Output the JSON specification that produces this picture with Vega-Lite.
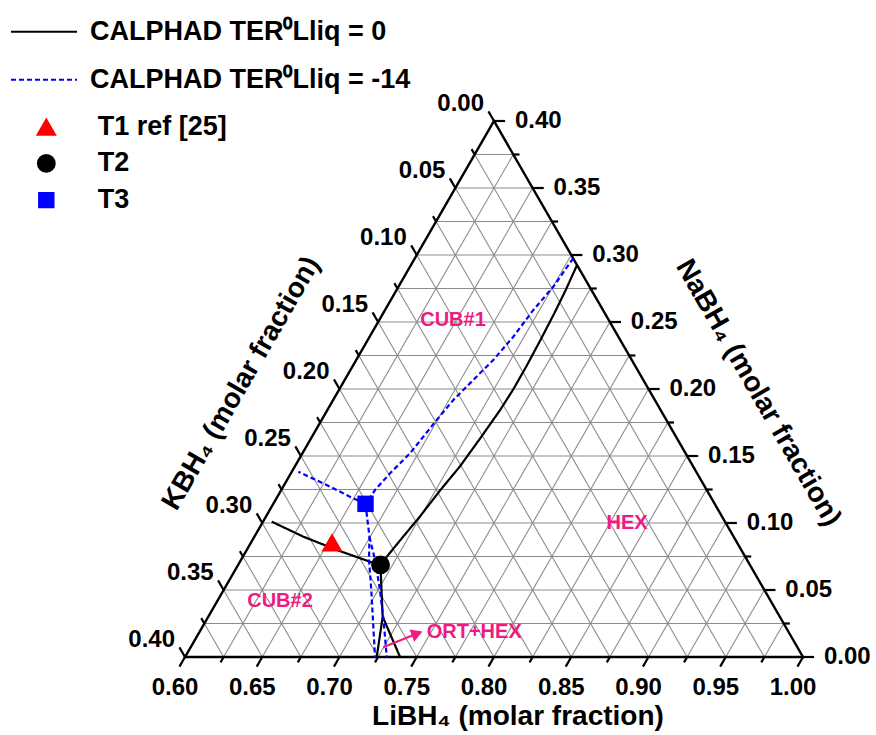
{
  "$schema": "https://vega.github.io/schema/vega-lite/v6.json",
  "width": 876,
  "height": 735,
  "autosize": {"type": "none"},
  "padding": 0,
  "background": "white",
  "config": {"view": {"stroke": null}, "font": "Liberation Sans"},
  "datasets": {
    "grid": [
      {"fam": "Li", "v": 0.625}, {"fam": "Li", "v": 0.65}, {"fam": "Li", "v": 0.675}, {"fam": "Li", "v": 0.7}, {"fam": "Li", "v": 0.725},
      {"fam": "Li", "v": 0.75}, {"fam": "Li", "v": 0.775}, {"fam": "Li", "v": 0.8}, {"fam": "Li", "v": 0.825}, {"fam": "Li", "v": 0.85},
      {"fam": "Li", "v": 0.875}, {"fam": "Li", "v": 0.9}, {"fam": "Li", "v": 0.925}, {"fam": "Li", "v": 0.95}, {"fam": "Li", "v": 0.975},
      {"fam": "Na", "v": 0.025}, {"fam": "Na", "v": 0.05}, {"fam": "Na", "v": 0.075}, {"fam": "Na", "v": 0.1}, {"fam": "Na", "v": 0.125},
      {"fam": "Na", "v": 0.15}, {"fam": "Na", "v": 0.175}, {"fam": "Na", "v": 0.2}, {"fam": "Na", "v": 0.225}, {"fam": "Na", "v": 0.25},
      {"fam": "Na", "v": 0.275}, {"fam": "Na", "v": 0.3}, {"fam": "Na", "v": 0.325}, {"fam": "Na", "v": 0.35}, {"fam": "Na", "v": 0.375},
      {"fam": "K", "v": 0.025}, {"fam": "K", "v": 0.05}, {"fam": "K", "v": 0.075}, {"fam": "K", "v": 0.1}, {"fam": "K", "v": 0.125},
      {"fam": "K", "v": 0.15}, {"fam": "K", "v": 0.175}, {"fam": "K", "v": 0.2}, {"fam": "K", "v": 0.225}, {"fam": "K", "v": 0.25},
      {"fam": "K", "v": 0.275}, {"fam": "K", "v": 0.3}, {"fam": "K", "v": 0.325}, {"fam": "K", "v": 0.35}, {"fam": "K", "v": 0.375}
    ],
    "edges": [{"fam": "Li", "v": 0.6}, {"fam": "Na", "v": 0}, {"fam": "K", "v": 0}],
    "major": [
      {"axis": "LiBH4", "v": 0.6}, {"axis": "LiBH4", "v": 0.65}, {"axis": "LiBH4", "v": 0.7}, {"axis": "LiBH4", "v": 0.75}, {"axis": "LiBH4", "v": 0.8},
      {"axis": "LiBH4", "v": 0.85}, {"axis": "LiBH4", "v": 0.9}, {"axis": "LiBH4", "v": 0.95}, {"axis": "LiBH4", "v": 1.0},
      {"axis": "KBH4", "v": 0.0}, {"axis": "KBH4", "v": 0.05}, {"axis": "KBH4", "v": 0.1}, {"axis": "KBH4", "v": 0.15}, {"axis": "KBH4", "v": 0.2},
      {"axis": "KBH4", "v": 0.25}, {"axis": "KBH4", "v": 0.3}, {"axis": "KBH4", "v": 0.35}, {"axis": "KBH4", "v": 0.4},
      {"axis": "NaBH4", "v": 0.0}, {"axis": "NaBH4", "v": 0.05}, {"axis": "NaBH4", "v": 0.1}, {"axis": "NaBH4", "v": 0.15}, {"axis": "NaBH4", "v": 0.2},
      {"axis": "NaBH4", "v": 0.25}, {"axis": "NaBH4", "v": 0.3}, {"axis": "NaBH4", "v": 0.35}, {"axis": "NaBH4", "v": 0.4}
    ],
    "minor": [
      {"axis": "LiBH4", "v": 0.625}, {"axis": "LiBH4", "v": 0.675}, {"axis": "LiBH4", "v": 0.725}, {"axis": "LiBH4", "v": 0.775},
      {"axis": "LiBH4", "v": 0.825}, {"axis": "LiBH4", "v": 0.875}, {"axis": "LiBH4", "v": 0.925}, {"axis": "LiBH4", "v": 0.975},
      {"axis": "KBH4", "v": 0.025}, {"axis": "KBH4", "v": 0.075}, {"axis": "KBH4", "v": 0.125}, {"axis": "KBH4", "v": 0.175},
      {"axis": "KBH4", "v": 0.225}, {"axis": "KBH4", "v": 0.275}, {"axis": "KBH4", "v": 0.325}, {"axis": "KBH4", "v": 0.375},
      {"axis": "NaBH4", "v": 0.025}, {"axis": "NaBH4", "v": 0.075}, {"axis": "NaBH4", "v": 0.125}, {"axis": "NaBH4", "v": 0.175},
      {"axis": "NaBH4", "v": 0.225}, {"axis": "NaBH4", "v": 0.275}, {"axis": "NaBH4", "v": 0.325}, {"axis": "NaBH4", "v": 0.375}
    ],
    "curves": [
      {"model": "CALPHAD TER⁰Lliq = 0", "seg": "b1", "o": 1, "li": 0.7075, "na": 0.2925},
      {"model": "CALPHAD TER⁰Lliq = 0", "seg": "b1", "o": 2, "li": 0.7095, "na": 0.2739},
      {"model": "CALPHAD TER⁰Lliq = 0", "seg": "b1", "o": 3, "li": 0.7108, "na": 0.2565},
      {"model": "CALPHAD TER⁰Lliq = 0", "seg": "b1", "o": 4, "li": 0.7118, "na": 0.2366},
      {"model": "CALPHAD TER⁰Lliq = 0", "seg": "b1", "o": 5, "li": 0.7125, "na": 0.2166},
      {"model": "CALPHAD TER⁰Lliq = 0", "seg": "b1", "o": 6, "li": 0.7126, "na": 0.1993},
      {"model": "CALPHAD TER⁰Lliq = 0", "seg": "b1", "o": 7, "li": 0.7118, "na": 0.1843},
      {"model": "CALPHAD TER⁰Lliq = 0", "seg": "b1", "o": 8, "li": 0.7095, "na": 0.1634},
      {"model": "CALPHAD TER⁰Lliq = 0", "seg": "b1", "o": 9, "li": 0.7068, "na": 0.1420},
      {"model": "CALPHAD TER⁰Lliq = 0", "seg": "b1", "o": 10, "li": 0.7030, "na": 0.1246},
      {"model": "CALPHAD TER⁰Lliq = 0", "seg": "b1", "o": 11, "li": 0.6996, "na": 0.1047},
      {"model": "CALPHAD TER⁰Lliq = 0", "seg": "b1", "o": 12, "li": 0.6963, "na": 0.0898},
      {"model": "CALPHAD TER⁰Lliq = 0", "seg": "b1", "o": 13, "li": 0.6932, "na": 0.0749},
      {"model": "CALPHAD TER⁰Lliq = 0", "seg": "b1", "o": 14, "li": 0.6922, "na": 0.0687},
      {"model": "CALPHAD TER⁰Lliq = 0", "seg": "b2", "o": 1, "li": 0.6056, "na": 0.1010},
      {"model": "CALPHAD TER⁰Lliq = 0", "seg": "b2", "o": 2, "li": 0.6317, "na": 0.0898},
      {"model": "CALPHAD TER⁰Lliq = 0", "seg": "b2", "o": 3, "li": 0.6583, "na": 0.0799},
      {"model": "CALPHAD TER⁰Lliq = 0", "seg": "b2", "o": 4, "li": 0.6842, "na": 0.0711},
      {"model": "CALPHAD TER⁰Lliq = 0", "seg": "b2", "o": 5, "li": 0.6922, "na": 0.0687},
      {"model": "CALPHAD TER⁰Lliq = 0", "seg": "b3", "o": 1, "li": 0.6922, "na": 0.0687},
      {"model": "CALPHAD TER⁰Lliq = 0", "seg": "b3", "o": 2, "li": 0.7035, "na": 0.0475},
      {"model": "CALPHAD TER⁰Lliq = 0", "seg": "b3", "o": 3, "li": 0.7129, "na": 0.0301},
      {"model": "CALPHAD TER⁰Lliq = 0", "seg": "b3", "o": 4, "li": 0.7241, "na": 0.0},
      {"model": "CALPHAD TER⁰Lliq = 0", "seg": "b4", "o": 1, "li": 0.7129, "na": 0.0301},
      {"model": "CALPHAD TER⁰Lliq = 0", "seg": "b4", "o": 2, "li": 0.7392, "na": 0.0},
      {"model": "CALPHAD TER⁰Lliq = -14", "seg": "d1", "o": 1, "li": 0.7025, "na": 0.2975},
      {"model": "CALPHAD TER⁰Lliq = -14", "seg": "d1", "o": 2, "li": 0.7002, "na": 0.2763},
      {"model": "CALPHAD TER⁰Lliq = -14", "seg": "d1", "o": 3, "li": 0.6960, "na": 0.2590},
      {"model": "CALPHAD TER⁰Lliq = -14", "seg": "d1", "o": 4, "li": 0.6930, "na": 0.2390},
      {"model": "CALPHAD TER⁰Lliq = -14", "seg": "d1", "o": 5, "li": 0.6887, "na": 0.2216},
      {"model": "CALPHAD TER⁰Lliq = -14", "seg": "d1", "o": 6, "li": 0.6832, "na": 0.2067},
      {"model": "CALPHAD TER⁰Lliq = -14", "seg": "d1", "o": 7, "li": 0.6778, "na": 0.1918},
      {"model": "CALPHAD TER⁰Lliq = -14", "seg": "d1", "o": 8, "li": 0.6745, "na": 0.1769},
      {"model": "CALPHAD TER⁰Lliq = -14", "seg": "d1", "o": 9, "li": 0.6696, "na": 0.1520},
      {"model": "CALPHAD TER⁰Lliq = -14", "seg": "d1", "o": 10, "li": 0.6642, "na": 0.1371},
      {"model": "CALPHAD TER⁰Lliq = -14", "seg": "d1", "o": 11, "li": 0.6607, "na": 0.1246},
      {"model": "CALPHAD TER⁰Lliq = -14", "seg": "d1", "o": 12, "li": 0.6597, "na": 0.1143},
      {"model": "CALPHAD TER⁰Lliq = -14", "seg": "d2", "o": 1, "li": 0.6597, "na": 0.1143},
      {"model": "CALPHAD TER⁰Lliq = -14", "seg": "d2", "o": 2, "li": 0.6470, "na": 0.1196},
      {"model": "CALPHAD TER⁰Lliq = -14", "seg": "d2", "o": 3, "li": 0.6275, "na": 0.1284},
      {"model": "CALPHAD TER⁰Lliq = -14", "seg": "d2", "o": 4, "li": 0.6042, "na": 0.1383},
      {"model": "CALPHAD TER⁰Lliq = -14", "seg": "d3", "o": 1, "li": 0.6597, "na": 0.1143},
      {"model": "CALPHAD TER⁰Lliq = -14", "seg": "d3", "o": 2, "li": 0.6746, "na": 0.0896},
      {"model": "CALPHAD TER⁰Lliq = -14", "seg": "d3", "o": 3, "li": 0.6829, "na": 0.0724},
      {"model": "CALPHAD TER⁰Lliq = -14", "seg": "d3", "o": 4, "li": 0.6968, "na": 0.0478},
      {"model": "CALPHAD TER⁰Lliq = -14", "seg": "d3", "o": 5, "li": 0.7107, "na": 0.0224},
      {"model": "CALPHAD TER⁰Lliq = -14", "seg": "d3", "o": 6, "li": 0.7230, "na": 0.0},
      {"model": "CALPHAD TER⁰Lliq = -14", "seg": "d4", "o": 1, "li": 0.6746, "na": 0.0896},
      {"model": "CALPHAD TER⁰Lliq = -14", "seg": "d4", "o": 2, "li": 0.6868, "na": 0.0724},
      {"model": "CALPHAD TER⁰Lliq = -14", "seg": "d4", "o": 3, "li": 0.7012, "na": 0.0500},
      {"model": "CALPHAD TER⁰Lliq = -14", "seg": "d4", "o": 4, "li": 0.7147, "na": 0.0276},
      {"model": "CALPHAD TER⁰Lliq = -14", "seg": "d4", "o": 5, "li": 0.7306, "na": 0.0}
    ],
    "points": [
      {"label": "T1 ref [25]", "li": 0.6524, "na": 0.0855},
      {"label": "T2", "li": 0.6922, "na": 0.0687},
      {"label": "T3", "li": 0.6597, "na": 0.1143}
    ],
    "arrow": [
      {"o": 1, "li": 0.7247, "na": 0.0072},
      {"o": 2, "li": 0.7415, "na": 0.0175}
    ],
    "notes": [
      {"text": "CUB#1", "li": 0.6477, "na": 0.2515},
      {"text": "CUB#2", "li": 0.6406, "na": 0.0418},
      {"text": "HEX", "li": 0.8362, "na": 0.0998},
      {"text": "ORT+HEX", "li": 0.7473, "na": 0.0183}
    ],
    "titles": [
      {"text": "LiBH₄ (molar fraction)", "li": 0.8379, "na": -0.0448},
      {"text": "KBH₄ (molar fraction)", "li": 0.5345, "na": 0.2041},
      {"text": "NaBH₄ (molar fraction)", "li": 0.8724, "na": 0.1970}
    ]
  },
  "encoding": {
    "x": {"field": "x", "type": "quantitative", "scale": {"domain": [0.48026, 1.04725], "nice": false, "zero": false}, "axis": null},
    "y": {"field": "na", "type": "quantitative", "scale": {"domain": [-0.05821, 0.4903], "nice": false, "zero": false}, "axis": null}
  },
  "layer": [
    {
      "data": {"name": "grid"},
      "transform": [
        {"calculate": "datum.fam === 'Li' ? datum.v : datum.fam === 'Na' ? 0.6 : 1 - datum.v", "as": "li1"},
        {"calculate": "datum.fam === 'Na' ? datum.v : 0", "as": "na"},
        {"calculate": "datum.fam === 'Li' ? datum.v : datum.fam === 'Na' ? 1 - datum.v : 0.6", "as": "li2"},
        {"calculate": "datum.fam === 'Li' ? 1 - datum.v : datum.fam === 'Na' ? datum.v : 0.4 - datum.v", "as": "na2"},
        {"calculate": "datum.li1 + datum.na / 2", "as": "x"},
        {"calculate": "datum.li2 + datum.na2 / 2", "as": "x2"}
      ],
      "mark": {"type": "rule", "color": "#8c8c8c", "strokeWidth": 1.1},
      "encoding": {"x2": {"field": "x2"}, "y2": {"field": "na2"}}
    },
    {
      "data": {"name": "edges"},
      "transform": [
        {"calculate": "datum.fam === 'Li' ? datum.v : datum.fam === 'Na' ? 0.6 : 1 - datum.v", "as": "li1"},
        {"calculate": "datum.fam === 'Na' ? datum.v : 0", "as": "na"},
        {"calculate": "datum.fam === 'Li' ? datum.v : datum.fam === 'Na' ? 1 - datum.v : 0.6", "as": "li2"},
        {"calculate": "datum.fam === 'Li' ? 1 - datum.v : datum.fam === 'Na' ? datum.v : 0.4 - datum.v", "as": "na2"},
        {"calculate": "datum.li1 + datum.na / 2", "as": "x"},
        {"calculate": "datum.li2 + datum.na2 / 2", "as": "x2"}
      ],
      "mark": {"type": "rule", "color": "#000000", "strokeWidth": 2.4, "strokeCap": "square"},
      "encoding": {"x2": {"field": "x2"}, "y2": {"field": "na2"}}
    },
    {
      "data": {"name": "major"},
      "transform": [
        {"calculate": "datum.axis === 'LiBH4' ? datum.v : datum.axis === 'KBH4' ? 0.6 : 1 - datum.v", "as": "li1"},
        {"calculate": "datum.axis === 'LiBH4' ? 0 : datum.axis === 'KBH4' ? 0.4 - datum.v : datum.v", "as": "na"},
        {"calculate": "datum.li1 + (datum.axis === 'LiBH4' ? 0 : datum.axis === 'KBH4' ? -0.0072 : 0.0072)", "as": "li2"},
        {"calculate": "datum.na + (datum.axis === 'LiBH4' ? -0.0072 : datum.axis === 'KBH4' ? 0.0072 : 0)", "as": "na2"},
        {"calculate": "datum.li1 + datum.na / 2", "as": "x"},
        {"calculate": "datum.li2 + datum.na2 / 2", "as": "x2"}
      ],
      "mark": {"type": "rule", "color": "#000000", "strokeWidth": 2.2},
      "encoding": {"x2": {"field": "x2"}, "y2": {"field": "na2"}}
    },
    {
      "data": {"name": "minor"},
      "transform": [
        {"calculate": "datum.axis === 'LiBH4' ? datum.v : datum.axis === 'KBH4' ? 0.6 : 1 - datum.v", "as": "li1"},
        {"calculate": "datum.axis === 'LiBH4' ? 0 : datum.axis === 'KBH4' ? 0.4 - datum.v : datum.v", "as": "na"},
        {"calculate": "datum.li1 + (datum.axis === 'LiBH4' ? 0 : datum.axis === 'KBH4' ? -0.004 : 0.004)", "as": "li2"},
        {"calculate": "datum.na + (datum.axis === 'LiBH4' ? -0.004 : datum.axis === 'KBH4' ? 0.004 : 0)", "as": "na2"},
        {"calculate": "datum.li1 + datum.na / 2", "as": "x"},
        {"calculate": "datum.li2 + datum.na2 / 2", "as": "x2"}
      ],
      "mark": {"type": "rule", "color": "#000000", "strokeWidth": 2.2},
      "encoding": {"x2": {"field": "x2"}, "y2": {"field": "na2"}}
    },
    {
      "data": {"name": "major"},
      "transform": [
        {"filter": "datum.axis === 'LiBH4'"},
        {"calculate": "0", "as": "na"},
        {"calculate": "datum.v", "as": "x"}
      ],
      "mark": {"type": "text", "font": "Liberation Sans", "fontWeight": "bold", "fontSize": 24, "align": "center", "baseline": "middle", "dx": -10, "dy": 31, "color": "#000000"},
      "encoding": {"text": {"field": "v", "type": "quantitative", "format": ".2f"}}
    },
    {
      "data": {"name": "major"},
      "transform": [
        {"filter": "datum.axis === 'KBH4'"},
        {"calculate": "0.4 - datum.v", "as": "na"},
        {"calculate": "0.6 + datum.na / 2", "as": "x"}
      ],
      "mark": {"type": "text", "font": "Liberation Sans", "fontWeight": "bold", "fontSize": 24, "align": "right", "baseline": "middle", "dx": -10, "dy": -17, "color": "#000000"},
      "encoding": {"text": {"field": "v", "type": "quantitative", "format": ".2f"}}
    },
    {
      "data": {"name": "major"},
      "transform": [
        {"filter": "datum.axis === 'NaBH4'"},
        {"calculate": "datum.v", "as": "na"},
        {"calculate": "1 - datum.v + datum.na / 2", "as": "x"}
      ],
      "mark": {"type": "text", "font": "Liberation Sans", "fontWeight": "bold", "fontSize": 24, "align": "left", "baseline": "middle", "dx": 21, "dy": 0, "color": "#000000"},
      "encoding": {"text": {"field": "v", "type": "quantitative", "format": ".2f"}}
    },
    {
      "data": {"name": "curves"},
      "transform": [{"calculate": "datum.li + datum.na / 2", "as": "x"}],
      "mark": {"type": "line", "strokeWidth": 2.2},
      "encoding": {
        "stroke": {
          "field": "model", "type": "nominal",
          "scale": {"domain": ["CALPHAD TER⁰Lliq = 0", "CALPHAD TER⁰Lliq = -14"], "range": ["#000000", "#0000ff"]},
          "legend": {"title": null, "orient": "none", "legendX": 10, "legendY": 16.7, "symbolType": "stroke", "symbolSize": 4356, "symbolStrokeWidth": 2, "labelOffset": 12, "labelFont": "Liberation Sans", "labelFontWeight": "bold", "labelFontSize": 27, "labelColor": "#000000", "labelLimit": 1000, "clipHeight": 30, "rowPadding": 18, "padding": 0}
        },
        "strokeDash": {
          "field": "model", "type": "nominal",
          "scale": {"domain": ["CALPHAD TER⁰Lliq = 0", "CALPHAD TER⁰Lliq = -14"], "range": [[1, 0], [5, 3]]},
          "legend": {"title": null, "orient": "none", "legendX": 10, "legendY": 16.7, "symbolType": "stroke", "symbolSize": 4356, "symbolStrokeWidth": 2, "labelOffset": 12, "labelFont": "Liberation Sans", "labelFontWeight": "bold", "labelFontSize": 27, "labelColor": "#000000", "labelLimit": 1000, "clipHeight": 30, "rowPadding": 18, "padding": 0}
        },
        "detail": {"field": "seg", "type": "nominal"},
        "order": {"field": "o", "type": "quantitative"}
      }
    },
    {
      "data": {"name": "arrow"},
      "transform": [{"calculate": "datum.li + datum.na / 2", "as": "x"}],
      "mark": {"type": "line", "color": "#ee1b82", "strokeWidth": 2.2},
      "encoding": {"order": {"field": "o", "type": "quantitative"}}
    },
    {
      "data": {"name": "arrow"},
      "transform": [{"filter": "datum.o === 2"}, {"calculate": "datum.li + datum.na / 2", "as": "x"}],
      "mark": {"type": "point", "shape": "triangle-right", "angle": -22, "size": 170, "filled": true, "opacity": 1, "color": "#ee1b82", "strokeWidth": 0}
    },
    {
      "data": {"name": "points"},
      "transform": [{"calculate": "datum.li + datum.na / 2", "as": "x"}],
      "mark": {"type": "point", "filled": true, "opacity": 1, "strokeWidth": 0},
      "encoding": {
        "fill": {
          "field": "label", "type": "nominal",
          "scale": {"domain": ["T1 ref [25]", "T2", "T3"], "range": ["#ff0000", "#000000", "#0000ff"]},
          "legend": {"title": null, "orient": "none", "legendX": 32.8, "legendY": 111.7, "labelOffset": 38, "labelFont": "Liberation Sans", "labelFontWeight": "bold", "labelFontSize": 27, "labelColor": "#000000", "labelLimit": 1000, "clipHeight": 30, "rowPadding": 6.7, "padding": 0, "symbolStrokeWidth": 0, "symbolOpacity": 1}
        },
        "shape": {
          "field": "label", "type": "nominal",
          "scale": {"domain": ["T1 ref [25]", "T2", "T3"], "range": ["triangle-up", "circle", "square"]},
          "legend": {"title": null, "orient": "none", "legendX": 32.8, "legendY": 111.7, "labelOffset": 38, "labelFont": "Liberation Sans", "labelFontWeight": "bold", "labelFontSize": 27, "labelColor": "#000000", "labelLimit": 1000, "clipHeight": 30, "rowPadding": 6.7, "padding": 0, "symbolStrokeWidth": 0, "symbolOpacity": 1}
        },
        "size": {
          "field": "label", "type": "nominal",
          "scale": {"domain": ["T1 ref [25]", "T2", "T3"], "range": [440, 270, 290]},
          "legend": {"title": null, "orient": "none", "legendX": 32.8, "legendY": 111.7, "labelOffset": 38, "labelFont": "Liberation Sans", "labelFontWeight": "bold", "labelFontSize": 27, "labelColor": "#000000", "labelLimit": 1000, "clipHeight": 30, "rowPadding": 6.7, "padding": 0, "symbolStrokeWidth": 0, "symbolOpacity": 1}
        }
      }
    },
    {
      "data": {"name": "notes"},
      "transform": [{"filter": "datum.text !== 'ORT+HEX'"}, {"calculate": "datum.li + datum.na / 2", "as": "x"}],
      "mark": {"type": "text", "font": "Liberation Sans", "fontWeight": "bold", "fontSize": 20, "align": "center", "baseline": "middle", "color": "#ee1b82"},
      "encoding": {"text": {"field": "text", "type": "nominal"}}
    },
    {
      "data": {"name": "notes"},
      "transform": [{"filter": "datum.text === 'ORT+HEX'"}, {"calculate": "datum.li + datum.na / 2", "as": "x"}],
      "mark": {"type": "text", "font": "Liberation Sans", "fontWeight": "bold", "fontSize": 20, "align": "left", "baseline": "middle", "color": "#ee1b82"},
      "encoding": {"text": {"field": "text", "type": "nominal"}}
    },
    {
      "data": {"name": "titles"},
      "transform": [{"filter": "indexof(datum.text, 'LiBH') === 0"}, {"calculate": "datum.li + datum.na / 2", "as": "x"}],
      "mark": {"type": "text", "font": "Liberation Sans", "fontWeight": "bold", "fontSize": 28, "align": "center", "baseline": "middle", "color": "#000000"},
      "encoding": {"text": {"field": "text", "type": "nominal"}}
    },
    {
      "data": {"name": "titles"},
      "transform": [{"filter": "indexof(datum.text, 'KBH') === 0"}, {"calculate": "datum.li + datum.na / 2", "as": "x"}],
      "mark": {"type": "text", "font": "Liberation Sans", "fontWeight": "bold", "fontSize": 28, "align": "center", "baseline": "middle", "angle": -60, "color": "#000000"},
      "encoding": {"text": {"field": "text", "type": "nominal"}}
    },
    {
      "data": {"name": "titles"},
      "transform": [{"filter": "indexof(datum.text, 'NaBH') === 0"}, {"calculate": "datum.li + datum.na / 2", "as": "x"}],
      "mark": {"type": "text", "font": "Liberation Sans", "fontWeight": "bold", "fontSize": 28, "align": "center", "baseline": "middle", "angle": 60, "color": "#000000"},
      "encoding": {"text": {"field": "text", "type": "nominal"}}
    }
  ]
}
